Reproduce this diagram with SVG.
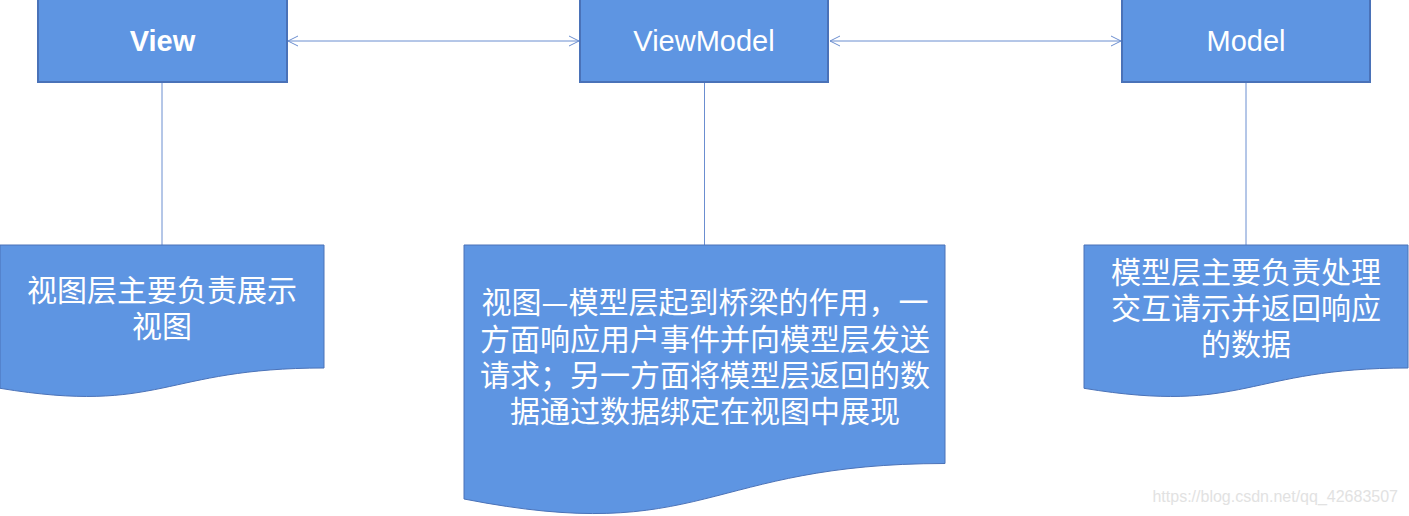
<svg xmlns="http://www.w3.org/2000/svg" width="1409" height="516" viewBox="0 0 1409 516">
  <defs>
    <style>
      .box { fill: #5E95E2; stroke: #4A72B8; stroke-width: 2; }
      .doc { fill: #5E95E2; stroke: #4A72B8; stroke-width: 1; }
      .conn { stroke: #6B8ED0; stroke-width: 1; fill: none; }
      .hdr { font-family: "Liberation Sans", Arial, sans-serif; font-size: 29px; fill: #FFFFFF; text-anchor: middle; }
      .cjk { font-family: "Noto Sans CJK SC", "Liberation Sans", sans-serif; font-size: 30px; fill: #FFFFFF; text-anchor: middle; }
      .wm { font-family: "Liberation Sans", Arial, sans-serif; font-size: 16px; fill: #E2E2E2; text-anchor: end; }
    </style>
    <marker id="openArrow" viewBox="0 0 12 12" refX="11" refY="6" markerWidth="12" markerHeight="12" markerUnits="userSpaceOnUse" orient="auto-start-reverse">
      <path d="M1,1 L11,6 L1,11" fill="none" stroke="#6B8ED0" stroke-width="1"/>
    </marker>
  </defs>

  <g id="connectors">
    <line class="conn" x1="288" y1="41" x2="579" y2="41" marker-start="url(#openArrow)" marker-end="url(#openArrow)"/>
    <line class="conn" x1="830" y1="41" x2="1121" y2="41" marker-start="url(#openArrow)" marker-end="url(#openArrow)"/>
    <line class="conn" x1="162" y1="82" x2="162" y2="245"/>
    <line class="conn" x1="704.5" y1="82" x2="704.5" y2="245"/>
    <line class="conn" x1="1246" y1="82" x2="1246" y2="245"/>
  </g>

  <g id="view">
    <rect class="box" x="38" y="-2" width="249" height="84"/>
    <text class="hdr" x="162.5" y="51" font-weight="bold">View</text>
  </g>

  <g id="viewmodel">
    <rect class="box" x="580" y="-2" width="248" height="84"/>
    <text class="hdr" x="704" y="51">ViewModel</text>
  </g>

  <g id="model">
    <rect class="box" x="1122" y="-2" width="248" height="84"/>
    <text class="hdr" x="1246" y="51">Model</text>
  </g>

  <g id="view-desc">
    <path class="doc" d="M0,245 H324 V368 C162,368 162,414.9 0,388.3 Z"/>
    <text class="cjk" x="162" y="301">视图层主要负责展示</text>
    <text class="cjk" x="162" y="337">视图</text>
  </g>

  <g id="viewmodel-desc">
    <path class="doc" d="M464,245 H945 V463.5 C704.5,463.5 704.5,546.2 464,499 Z"/>
    <text class="cjk" x="705" y="313">视图—模型层起到桥梁的作用，一</text>
    <text class="cjk" x="705" y="349.5">方面响应用户事件并向模型层发送</text>
    <text class="cjk" x="705" y="386">请求；另一方面将模型层返回的数</text>
    <text class="cjk" x="705" y="422">据通过数据绑定在视图中展现</text>
  </g>

  <g id="model-desc">
    <path class="doc" d="M1084,245 H1408 V368 C1246,368 1246,414.9 1084,388.3 Z"/>
    <text class="cjk" x="1246" y="283">模型层主要负责处理</text>
    <text class="cjk" x="1246" y="319">交互请示并返回响应</text>
    <text class="cjk" x="1246" y="355">的数据</text>
  </g>

  <text class="wm" x="1398" y="502">https://blog.csdn.net/qq_42683507</text>
</svg>
